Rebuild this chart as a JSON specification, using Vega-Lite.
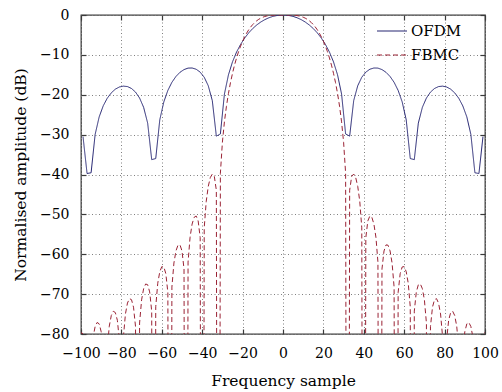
{
 "$schema": "https://vega.github.io/schema/vega-lite/v6.json",
 "width": 404,
 "height": 319,
 "autosize": "none",
 "padding": {"left": 81, "top": 15, "right": 17, "bottom": 58},
 "background": "white",
 "config": {
  "font": "DejaVu Serif",
  "view": {"stroke": "#3a3a3a", "strokeWidth": 1.3},
  "axis": {"labelFont": "DejaVu Serif", "titleFont": "DejaVu Serif", "labelColor": "#000", "titleColor": "#000", "titleFontWeight": "normal", "labelFontSize": 14, "titleFontSize": 15.5, "tickColor": "#3a3a3a", "tickSize": -5, "tickWidth": 1.2, "domain": false, "gridColor": "#808080", "gridDash": [1, 2.5], "gridWidth": 1, "labelOverlap": false, "labelFlush": false},
  "legend": {"labelFont": "DejaVu Serif", "labelFontSize": 15, "labelColor": "#000"}
 },
 "data": {"values": [
  {"s":"OFDM","x":-99,"y":-30.50},{"s":"OFDM","x":-97,"y":-39.75},{"s":"OFDM","x":-95,"y":-39.57},{"s":"OFDM","x":-93,"y":-29.95},{"s":"OFDM","x":-91,"y":-25.55},{"s":"OFDM","x":-89,"y":-22.78},{"s":"OFDM","x":-87,"y":-20.87},{"s":"OFDM","x":-85,"y":-19.52},{"s":"OFDM","x":-83,"y":-18.60},{"s":"OFDM","x":-81,"y":-18.05},{"s":"OFDM","x":-79,"y":-17.84},{"s":"OFDM","x":-77,"y":-17.95},{"s":"OFDM","x":-75,"y":-18.43},{"s":"OFDM","x":-73,"y":-19.34},{"s":"OFDM","x":-71,"y":-20.82},{"s":"OFDM","x":-69,"y":-23.15},{"s":"OFDM","x":-67,"y":-27.11},{"s":"OFDM","x":-65,"y":-36.27},{"s":"OFDM","x":-63,"y":-36.00},{"s":"OFDM","x":-61,"y":-26.29},{"s":"OFDM","x":-59,"y":-21.79},{"s":"OFDM","x":-57,"y":-18.91},{"s":"OFDM","x":-55,"y":-16.88},{"s":"OFDM","x":-53,"y":-15.42},{"s":"OFDM","x":-51,"y":-14.37},{"s":"OFDM","x":-49,"y":-13.69},{"s":"OFDM","x":-47,"y":-13.32},{"s":"OFDM","x":-45,"y":-13.29},{"s":"OFDM","x":-43,"y":-13.60},{"s":"OFDM","x":-41,"y":-14.33},{"s":"OFDM","x":-39,"y":-15.61},{"s":"OFDM","x":-37,"y":-17.74},{"s":"OFDM","x":-35,"y":-21.47},{"s":"OFDM","x":-33,"y":-30.38},{"s":"OFDM","x":-31,"y":-29.84},{"s":"OFDM","x":-29,"y":-19.83},{"s":"OFDM","x":-27,"y":-15.00},{"s":"OFDM","x":-25,"y":-11.75},{"s":"OFDM","x":-23,"y":-9.31},{"s":"OFDM","x":-21,"y":-7.38},{"s":"OFDM","x":-19,"y":-5.80},{"s":"OFDM","x":-17,"y":-4.49},{"s":"OFDM","x":-15,"y":-3.40},{"s":"OFDM","x":-13,"y":-2.50},{"s":"OFDM","x":-11,"y":-1.76},{"s":"OFDM","x":-9,"y":-1.16},{"s":"OFDM","x":-7,"y":-0.70},{"s":"OFDM","x":-5,"y":-0.35},{"s":"OFDM","x":-3,"y":-0.13},{"s":"OFDM","x":-1,"y":-0.01},
  {"s":"OFDM","x":1,"y":-0.01},{"s":"OFDM","x":3,"y":-0.13},{"s":"OFDM","x":5,"y":-0.35},{"s":"OFDM","x":7,"y":-0.70},{"s":"OFDM","x":9,"y":-1.16},{"s":"OFDM","x":11,"y":-1.76},{"s":"OFDM","x":13,"y":-2.50},{"s":"OFDM","x":15,"y":-3.40},{"s":"OFDM","x":17,"y":-4.49},{"s":"OFDM","x":19,"y":-5.80},{"s":"OFDM","x":21,"y":-7.38},{"s":"OFDM","x":23,"y":-9.31},{"s":"OFDM","x":25,"y":-11.75},{"s":"OFDM","x":27,"y":-15.00},{"s":"OFDM","x":29,"y":-19.83},{"s":"OFDM","x":31,"y":-29.84},{"s":"OFDM","x":33,"y":-30.38},{"s":"OFDM","x":35,"y":-21.47},{"s":"OFDM","x":37,"y":-17.74},{"s":"OFDM","x":39,"y":-15.61},{"s":"OFDM","x":41,"y":-14.33},{"s":"OFDM","x":43,"y":-13.60},{"s":"OFDM","x":45,"y":-13.29},{"s":"OFDM","x":47,"y":-13.32},{"s":"OFDM","x":49,"y":-13.69},{"s":"OFDM","x":51,"y":-14.37},{"s":"OFDM","x":53,"y":-15.42},{"s":"OFDM","x":55,"y":-16.88},{"s":"OFDM","x":57,"y":-18.91},{"s":"OFDM","x":59,"y":-21.79},{"s":"OFDM","x":61,"y":-26.29},{"s":"OFDM","x":63,"y":-36.00},{"s":"OFDM","x":65,"y":-36.27},{"s":"OFDM","x":67,"y":-27.11},{"s":"OFDM","x":69,"y":-23.15},{"s":"OFDM","x":71,"y":-20.82},{"s":"OFDM","x":73,"y":-19.34},{"s":"OFDM","x":75,"y":-18.43},{"s":"OFDM","x":77,"y":-17.95},{"s":"OFDM","x":79,"y":-17.84},{"s":"OFDM","x":81,"y":-18.05},{"s":"OFDM","x":83,"y":-18.60},{"s":"OFDM","x":85,"y":-19.52},{"s":"OFDM","x":87,"y":-20.87},{"s":"OFDM","x":89,"y":-22.78},{"s":"OFDM","x":91,"y":-25.55},{"s":"OFDM","x":93,"y":-29.95},{"s":"OFDM","x":95,"y":-39.57},{"s":"OFDM","x":97,"y":-39.75},{"s":"OFDM","x":99,"y":-30.50},
  {"s":"FBMC","x":-100,"y":-79.60},{"s":"FBMC","x":-99,"y":-79.99},{"s":"FBMC","x":-98,"y":-82.01},{"s":"FBMC","x":-97,"y":-87.04},{"s":"FBMC","x":-96,"y":-300},{"s":"FBMC","x":-95,"y":-86.41},{"s":"FBMC","x":-94,"y":-80.76},{"s":"FBMC","x":-93,"y":-78.12},{"s":"FBMC","x":-92,"y":-77.10},{"s":"FBMC","x":-91,"y":-77.46},{"s":"FBMC","x":-90,"y":-79.44},{"s":"FBMC","x":-89,"y":-84.43},{"s":"FBMC","x":-88,"y":-300},{"s":"FBMC","x":-87,"y":-83.73},{"s":"FBMC","x":-86,"y":-78.04},{"s":"FBMC","x":-85,"y":-75.36},{"s":"FBMC","x":-84,"y":-74.30},{"s":"FBMC","x":-83,"y":-74.62},{"s":"FBMC","x":-82,"y":-76.56},{"s":"FBMC","x":-81,"y":-81.51},{"s":"FBMC","x":-80,"y":-300},{"s":"FBMC","x":-79,"y":-80.71},{"s":"FBMC","x":-78,"y":-74.97},{"s":"FBMC","x":-77,"y":-72.24},{"s":"FBMC","x":-76,"y":-71.13},{"s":"FBMC","x":-75,"y":-71.39},{"s":"FBMC","x":-74,"y":-73.27},{"s":"FBMC","x":-73,"y":-78.16},{"s":"FBMC","x":-72,"y":-300},{"s":"FBMC","x":-71,"y":-77.25},{"s":"FBMC","x":-70,"y":-71.44},{"s":"FBMC","x":-69,"y":-68.64},{"s":"FBMC","x":-68,"y":-67.46},{"s":"FBMC","x":-67,"y":-67.64},{"s":"FBMC","x":-66,"y":-69.45},{"s":"FBMC","x":-65,"y":-74.26},{"s":"FBMC","x":-64,"y":-300},{"s":"FBMC","x":-63,"y":-73.17},{"s":"FBMC","x":-62,"y":-67.27},{"s":"FBMC","x":-61,"y":-64.38},{"s":"FBMC","x":-60,"y":-63.10},{"s":"FBMC","x":-59,"y":-63.18},{"s":"FBMC","x":-58,"y":-64.88},{"s":"FBMC","x":-57,"y":-69.57},{"s":"FBMC","x":-56,"y":-300},{"s":"FBMC","x":-55,"y":-68.23},{"s":"FBMC","x":-54,"y":-62.20},{"s":"FBMC","x":-53,"y":-59.16},{"s":"FBMC","x":-52,"y":-57.73},{"s":"FBMC","x":-51,"y":-57.65},{"s":"FBMC","x":-50,"y":-59.18},{"s":"FBMC","x":-49,"y":-63.69},{"s":"FBMC","x":-48,"y":-300},{"s":"FBMC","x":-47,"y":-61.96},{"s":"FBMC","x":-46,"y":-55.71},{"s":"FBMC","x":-45,"y":-52.43},{"s":"FBMC","x":-44,"y":-50.75},{"s":"FBMC","x":-43,"y":-50.40},{"s":"FBMC","x":-42,"y":-51.64},{"s":"FBMC","x":-41,"y":-55.83},{"s":"FBMC","x":-40,"y":-300},{"s":"FBMC","x":-39,"y":-53.37},{"s":"FBMC","x":-38,"y":-46.71},{"s":"FBMC","x":-37,"y":-42.98},{"s":"FBMC","x":-36,"y":-40.79},{"s":"FBMC","x":-35,"y":-39.88},{"s":"FBMC","x":-34,"y":-40.48},{"s":"FBMC","x":-33,"y":-43.94},{"s":"FBMC","x":-32,"y":-300},{"s":"FBMC","x":-31,"y":-39.71},{"s":"FBMC","x":-30,"y":-31.91},{"s":"FBMC","x":-29,"y":-26.80},{"s":"FBMC","x":-28,"y":-22.88},{"s":"FBMC","x":-27,"y":-19.67},{"s":"FBMC","x":-26,"y":-16.96},{"s":"FBMC","x":-25,"y":-14.62},{"s":"FBMC","x":-24,"y":-12.57},{"s":"FBMC","x":-23,"y":-10.78},{"s":"FBMC","x":-22,"y":-9.20},{"s":"FBMC","x":-21,"y":-7.81},{"s":"FBMC","x":-20,"y":-6.58},{"s":"FBMC","x":-19,"y":-5.50},{"s":"FBMC","x":-18,"y":-4.55},{"s":"FBMC","x":-17,"y":-3.72},{"s":"FBMC","x":-16,"y":-3.01},{"s":"FBMC","x":-15,"y":-2.40},{"s":"FBMC","x":-14,"y":-1.88},{"s":"FBMC","x":-13,"y":-1.44},{"s":"FBMC","x":-12,"y":-1.08},{"s":"FBMC","x":-11,"y":-0.79},{"s":"FBMC","x":-10,"y":-0.56},{"s":"FBMC","x":-9,"y":-0.38},{"s":"FBMC","x":-8,"y":-0.25},{"s":"FBMC","x":-7,"y":-0.15},{"s":"FBMC","x":-6,"y":-0.09},{"s":"FBMC","x":-5,"y":-0.04},{"s":"FBMC","x":-4,"y":-0.02},{"s":"FBMC","x":-3,"y":-0.01},{"s":"FBMC","x":-2,"y":0},{"s":"FBMC","x":-1,"y":0},
  {"s":"FBMC","x":0,"y":0},
  {"s":"FBMC","x":1,"y":0},{"s":"FBMC","x":2,"y":0},{"s":"FBMC","x":3,"y":-0.01},{"s":"FBMC","x":4,"y":-0.02},{"s":"FBMC","x":5,"y":-0.04},{"s":"FBMC","x":6,"y":-0.09},{"s":"FBMC","x":7,"y":-0.15},{"s":"FBMC","x":8,"y":-0.25},{"s":"FBMC","x":9,"y":-0.38},{"s":"FBMC","x":10,"y":-0.56},{"s":"FBMC","x":11,"y":-0.79},{"s":"FBMC","x":12,"y":-1.08},{"s":"FBMC","x":13,"y":-1.44},{"s":"FBMC","x":14,"y":-1.88},{"s":"FBMC","x":15,"y":-2.40},{"s":"FBMC","x":16,"y":-3.01},{"s":"FBMC","x":17,"y":-3.72},{"s":"FBMC","x":18,"y":-4.55},{"s":"FBMC","x":19,"y":-5.50},{"s":"FBMC","x":20,"y":-6.58},{"s":"FBMC","x":21,"y":-7.81},{"s":"FBMC","x":22,"y":-9.20},{"s":"FBMC","x":23,"y":-10.78},{"s":"FBMC","x":24,"y":-12.57},{"s":"FBMC","x":25,"y":-14.62},{"s":"FBMC","x":26,"y":-16.96},{"s":"FBMC","x":27,"y":-19.67},{"s":"FBMC","x":28,"y":-22.88},{"s":"FBMC","x":29,"y":-26.80},{"s":"FBMC","x":30,"y":-31.91},{"s":"FBMC","x":31,"y":-39.71},{"s":"FBMC","x":32,"y":-300},{"s":"FBMC","x":33,"y":-43.94},{"s":"FBMC","x":34,"y":-40.48},{"s":"FBMC","x":35,"y":-39.88},{"s":"FBMC","x":36,"y":-40.79},{"s":"FBMC","x":37,"y":-42.98},{"s":"FBMC","x":38,"y":-46.71},{"s":"FBMC","x":39,"y":-53.37},{"s":"FBMC","x":40,"y":-300},{"s":"FBMC","x":41,"y":-55.83},{"s":"FBMC","x":42,"y":-51.64},{"s":"FBMC","x":43,"y":-50.40},{"s":"FBMC","x":44,"y":-50.75},{"s":"FBMC","x":45,"y":-52.43},{"s":"FBMC","x":46,"y":-55.71},{"s":"FBMC","x":47,"y":-61.96},{"s":"FBMC","x":48,"y":-300},{"s":"FBMC","x":49,"y":-63.69},{"s":"FBMC","x":50,"y":-59.18},{"s":"FBMC","x":51,"y":-57.65},{"s":"FBMC","x":52,"y":-57.73},{"s":"FBMC","x":53,"y":-59.16},{"s":"FBMC","x":54,"y":-62.20},{"s":"FBMC","x":55,"y":-68.23},{"s":"FBMC","x":56,"y":-300},{"s":"FBMC","x":57,"y":-69.57},{"s":"FBMC","x":58,"y":-64.88},{"s":"FBMC","x":59,"y":-63.18},{"s":"FBMC","x":60,"y":-63.10},{"s":"FBMC","x":61,"y":-64.38},{"s":"FBMC","x":62,"y":-67.27},{"s":"FBMC","x":63,"y":-73.17},{"s":"FBMC","x":64,"y":-300},{"s":"FBMC","x":65,"y":-74.26},{"s":"FBMC","x":66,"y":-69.45},{"s":"FBMC","x":67,"y":-67.64},{"s":"FBMC","x":68,"y":-67.46},{"s":"FBMC","x":69,"y":-68.64},{"s":"FBMC","x":70,"y":-71.44},{"s":"FBMC","x":71,"y":-77.25},{"s":"FBMC","x":72,"y":-300},{"s":"FBMC","x":73,"y":-78.16},{"s":"FBMC","x":74,"y":-73.27},{"s":"FBMC","x":75,"y":-71.39},{"s":"FBMC","x":76,"y":-71.13},{"s":"FBMC","x":77,"y":-72.24},{"s":"FBMC","x":78,"y":-74.97},{"s":"FBMC","x":79,"y":-80.71},{"s":"FBMC","x":80,"y":-300},{"s":"FBMC","x":81,"y":-81.51},{"s":"FBMC","x":82,"y":-76.56},{"s":"FBMC","x":83,"y":-74.62},{"s":"FBMC","x":84,"y":-74.30},{"s":"FBMC","x":85,"y":-75.36},{"s":"FBMC","x":86,"y":-78.04},{"s":"FBMC","x":87,"y":-83.73},{"s":"FBMC","x":88,"y":-300},{"s":"FBMC","x":89,"y":-84.43},{"s":"FBMC","x":90,"y":-79.44},{"s":"FBMC","x":91,"y":-77.46},{"s":"FBMC","x":92,"y":-77.10},{"s":"FBMC","x":93,"y":-78.12},{"s":"FBMC","x":94,"y":-80.76},{"s":"FBMC","x":95,"y":-86.41},{"s":"FBMC","x":96,"y":-300},{"s":"FBMC","x":97,"y":-87.04},{"s":"FBMC","x":98,"y":-82.01},{"s":"FBMC","x":99,"y":-79.99},{"s":"FBMC","x":100,"y":-79.60}
 ]},
 "layer": [
  {
   "mark": {"type": "line", "strokeWidth": 1, "clip": true},
   "encoding": {
    "x": {"field": "x", "type": "quantitative", "scale": {"domain": [-100, 100], "nice": false, "zero": false},
      "axis": {"orient": "bottom", "values": [-100, -80, -60, -40, -20, 0, 20, 40, 60, 80, 100], "title": "Frequency sample", "grid": true, "labelPadding": 17, "titlePadding": 13}},
    "y": {"field": "y", "type": "quantitative", "scale": {"domain": [-80, 0], "nice": false, "zero": false},
      "axis": {"orient": "left", "values": [-80, -70, -60, -50, -40, -30, -20, -10, 0], "title": "Normalised amplitude (dB)", "grid": true, "labelPadding": 17, "titlePadding": 11}},
    "color": {"field": "s", "type": "nominal", "scale": {"domain": ["OFDM", "FBMC"], "range": ["#262673", "#9b2335"]},
      "legend": {"title": null, "orient": "none", "legendX": 295, "legendY": 0, "symbolType": "stroke", "symbolSize": 900, "symbolStrokeWidth": 1.2, "rowPadding": -12, "labelOffset": 3}},
    "strokeDash": {"field": "s", "type": "nominal", "scale": {"domain": ["OFDM", "FBMC"], "range": [[1, 0], [5, 3]]},
      "legend": {"title": null, "orient": "none", "legendX": 295, "legendY": 0, "symbolType": "stroke", "symbolSize": 900, "symbolStrokeWidth": 1.2, "rowPadding": -12, "labelOffset": 3}}
   }
  },
  {
   "mark": {"type": "line", "strokeOpacity": 0},
   "encoding": {
    "x": {"field": "x", "type": "quantitative", "axis": {"orient": "top", "values": [-100, -80, -60, -40, -20, 0, 20, 40, 60, 80, 100], "labels": false, "title": null, "grid": false}},
    "y": {"field": "y", "type": "quantitative", "axis": {"orient": "right", "values": [-80, -70, -60, -50, -40, -30, -20, -10, 0], "labels": false, "title": null, "grid": false}}
   }
  }
 ],
 "resolve": {"axis": {"x": "independent", "y": "independent"}}
}
